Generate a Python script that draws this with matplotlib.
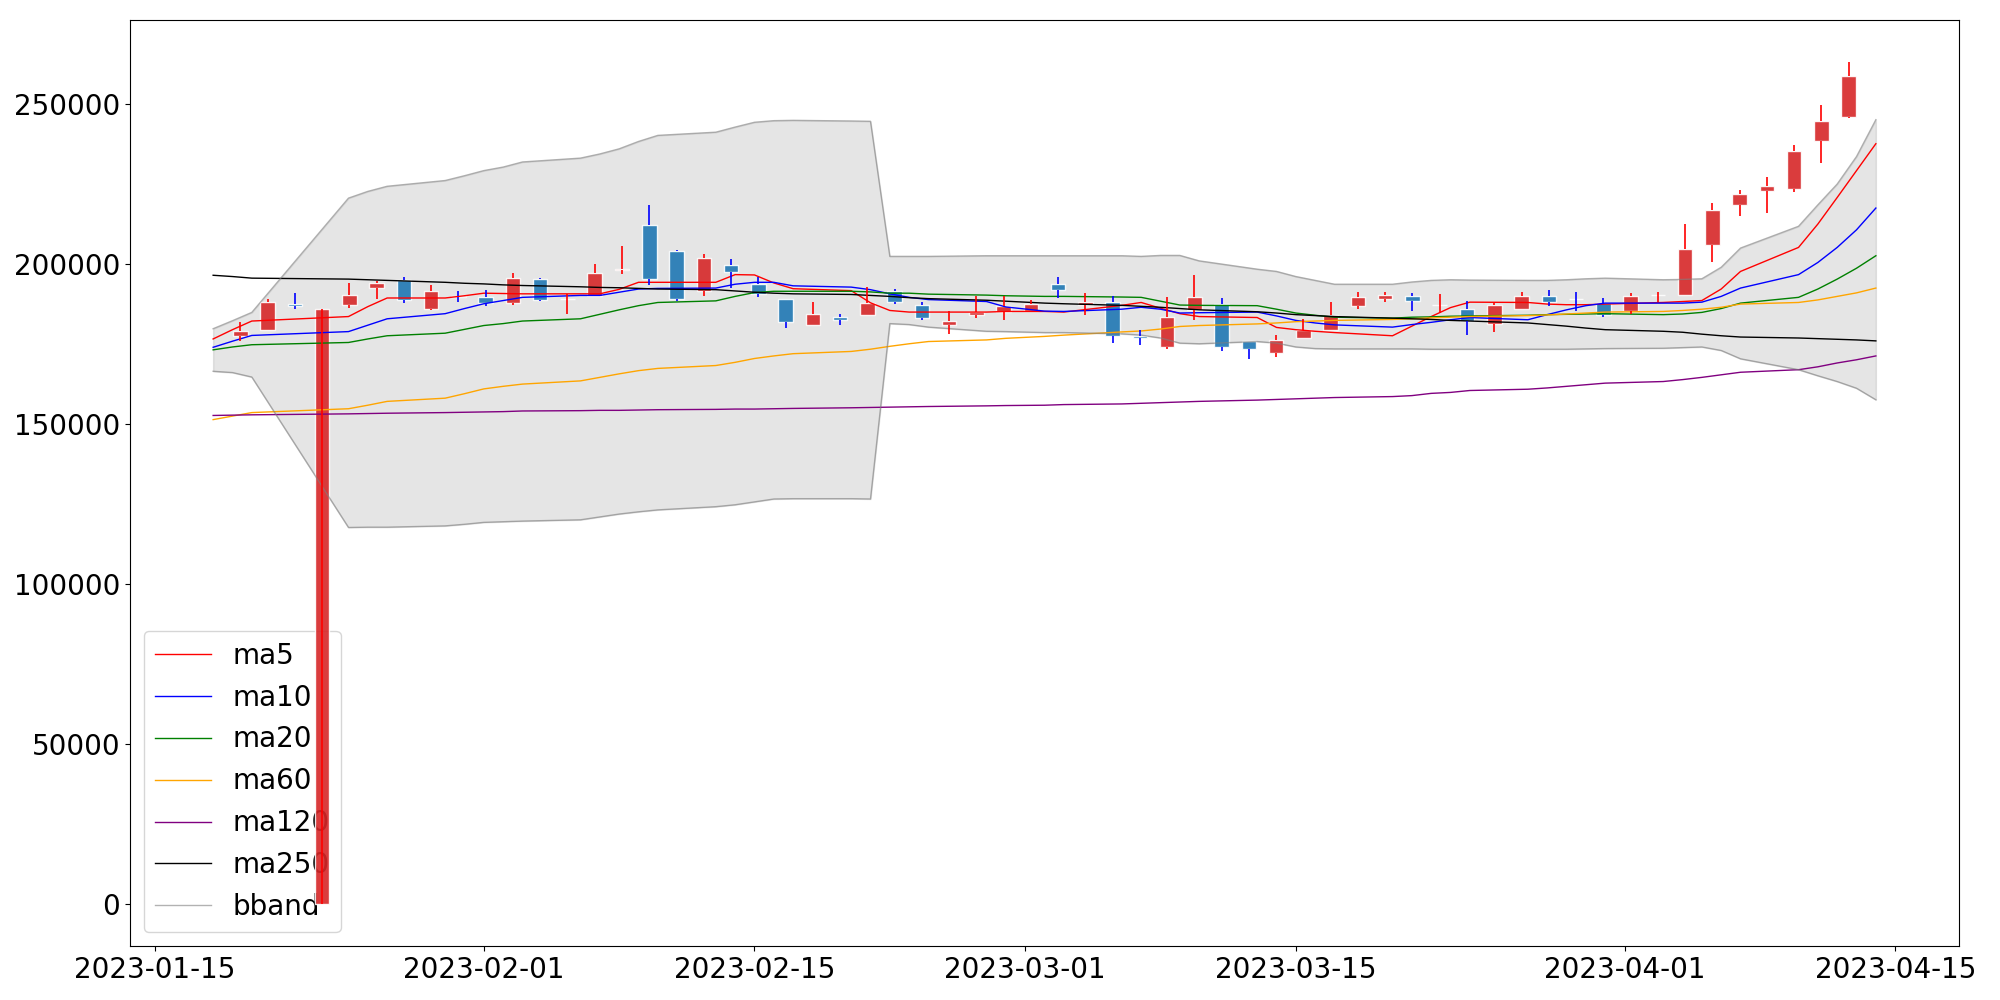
import numpy as np
import pandas as pd
import matplotlib
matplotlib.use("Agg")
import matplotlib.pyplot as plt
import matplotlib.dates as mdates

plt.rcParams["font.size"] = 20

dates = [
    "2023-01-18", "2023-01-19", "2023-01-20", "2023-01-25", "2023-01-26", "2023-01-27",
    "2023-01-30", "2023-01-31", "2023-02-01", "2023-02-02", "2023-02-03",
    "2023-02-06", "2023-02-07", "2023-02-08", "2023-02-09", "2023-02-10",
    "2023-02-13", "2023-02-14", "2023-02-15", "2023-02-16", "2023-02-17",
    "2023-02-20", "2023-02-21", "2023-02-22", "2023-02-23", "2023-02-24",
    "2023-02-27", "2023-02-28", "2023-03-02", "2023-03-03",
    "2023-03-06", "2023-03-07", "2023-03-08", "2023-03-09", "2023-03-10",
    "2023-03-13", "2023-03-14", "2023-03-15", "2023-03-16", "2023-03-17",
    "2023-03-20", "2023-03-21", "2023-03-22", "2023-03-23", "2023-03-24",
    "2023-03-27", "2023-03-28", "2023-03-29", "2023-03-30", "2023-03-31",
    "2023-04-03", "2023-04-04", "2023-04-05", "2023-04-06", "2023-04-07",
    "2023-04-10", "2023-04-11", "2023-04-12", "2023-04-13", "2023-04-14",
]

opens = [177500, 179400, 187300, 0, 187000, 192300, 194800, 185800, 189800, 189500,
         187800, 195100, 189000, 189800, 198200, 212200, 203900, 191400, 199700, 193800,
         189100, 181000, 183500, 183900, 191600, 187200, 180900, 184100, 185000, 185300,
         193800, 187000, 188100, 177500, 174000, 185600, 187500, 175900, 172100, 176700,
         179400, 186700, 189100, 189800, 187150, 186000, 181200, 186000, 189800, 189000,
         187800, 185100, 190300, 190300, 206000, 218500, 222600, 223500, 238200, 246000]
highs = [181800, 189000, 190800, 0, 194000, 194500, 195800, 193400, 191500, 191800,
         197100, 195600, 190600, 199900, 205500, 218400, 204400, 203000, 201600, 196000,
         189100, 188000, 184300, 192700, 192200, 188000, 185200, 189800, 189800, 188800,
         195800, 190800, 190000, 179400, 189700, 196500, 189400, 175900, 177700, 182800,
         188000, 191100, 191100, 190800, 190500, 188400, 187700, 191100, 191900, 191100,
         189300, 190800, 191100, 212500, 219000, 223000, 227100, 237100, 249600, 263000]
lows = [175900, 179400, 185800, 0, 186100, 189100, 187700, 185400, 188200, 186900,
        187000, 188500, 184300, 189800, 196800, 193500, 188500, 189800, 192400, 189600,
        179900, 181000, 180800, 183900, 187300, 182500, 178000, 182900, 182300, 185300,
        189300, 183900, 175200, 174500, 173500, 182300, 172600, 170200, 170800, 176700,
        179400, 185800, 188000, 185100, 184600, 177600, 178600, 186000, 186700, 185300,
        183500, 184400, 188000, 190300, 200500, 215000, 215800, 222400, 231500, 245500]
closes = [178900, 187900, 186900, 186000, 190100, 193900, 188800, 191400, 189500, 187700,
          195400, 188800, 189100, 197200, 198300, 195300, 189100, 201700, 197300, 190600,
          181900, 184200, 182300, 187600, 187900, 183200, 182200, 184800, 186700, 187300,
          191900, 188100, 177300, 176700, 183500, 189500, 174000, 173500, 176300, 179200,
          183900, 189500, 190100, 188400, 187200, 182200, 187000, 189800, 188200, 188900,
          184100, 190000, 190300, 204700, 216900, 221900, 224400, 235300, 244700, 258800]

ma5 = [176500, 179400, 182100, 183500, 186600, 189300, 189300, 190000, 190800, 190700,
       190600, 190600, 190600, 192000, 194200, 194200, 194200, 196600, 196500, 194000,
       192200, 191600, 187800, 185400, 184900, 184900, 184900, 185100, 185100, 184900,
       187000, 187900, 186100, 184400, 183500, 183200, 180100, 179400, 178900, 178500,
       177500, 180500, 183500, 186300, 188000, 187900, 187400, 187200, 187200, 187400,
       187900, 188200, 188500, 192100, 197600, 205100, 212400, 220700, 229100, 237500]
ma10 = [173900, 175800, 177600, 178800, 180800, 182800, 184400, 186000, 187500, 188500,
        189500, 190100, 190100, 191100, 192100, 192300, 192400, 193600, 194200, 194200,
        193100, 192700, 191900, 190600, 189500, 188800, 188200, 186500, 185200, 185100,
        185800, 186400, 185800, 184600, 184700, 184900, 183700, 182300, 181500, 180900,
        180200, 181000, 181700, 182500, 183200, 182500, 184100, 185600, 186900, 187700,
        187700, 187700, 188000, 189800, 192400, 196600, 200400, 205100, 210600, 217400]
ma20 = [173100, 174000, 174700, 175400, 176500, 177500, 178300, 179500, 180700, 181300,
        182100, 182800, 184200, 185600, 186900, 187900, 188400, 189800, 191000, 191400,
        191400, 191400, 191200, 190800, 190800, 190500, 190200, 190000, 189800, 189800,
        189600, 189500, 188300, 187100, 187000, 186900, 185800, 184600, 183900, 183300,
        183000, 183300, 183400, 183600, 183700, 183900, 184100, 184200, 184300, 184400,
        184100, 184300, 184800, 186000, 187700, 189500, 192100, 195200, 198600, 202500]
ma60 = [151300, 152400, 153500, 154700, 155800, 157000, 158000, 159400, 160900, 161700,
        162400, 163400, 164500, 165600, 166600, 167300, 168200, 169200, 170400, 171200,
        171900, 172600, 173300, 174200, 175000, 175700, 176200, 176700, 177300, 177700,
        178700, 179000, 179600, 180400, 180700, 181200, 181500, 181900, 182100, 182300,
        182600, 182800, 183100, 183300, 183500, 183800, 184000, 184300, 184600, 184900,
        185100, 185400, 185800, 186400, 187400, 187900, 188700, 189800, 190900, 192400]
ma120 = [152600, 152700, 152800, 153100, 153200, 153300, 153500, 153600, 153700, 153800,
         154000, 154100, 154200, 154200, 154300, 154400, 154500, 154600, 154600, 154700,
         154800, 155000, 155100, 155200, 155300, 155400, 155600, 155700, 155800, 156000,
         156200, 156400, 156600, 156800, 157000, 157400, 157600, 157800, 158000, 158200,
         158500, 158800, 159500, 159800, 160400, 160800, 161200, 161700, 162200, 162700,
         163200, 163800, 164500, 165300, 166100, 166900, 167800, 169000, 170000, 171200]
ma250 = [196400, 196000, 195500, 195200, 195000, 194800, 194200, 193900, 193700, 193400,
         193200, 192800, 192600, 192500, 192300, 192100, 191900, 191500, 191100, 190800,
         190600, 190400, 190100, 189800, 189400, 189100, 188600, 188300, 187700, 187500,
         187000, 186700, 186400, 186000, 185600, 185000, 184600, 184100, 183800, 183500,
         183000, 182800, 182600, 182300, 182100, 181500, 181000, 180500, 179900, 179400,
         178900, 178600, 178000, 177500, 177100, 176800, 176600, 176400, 176200, 175900]
bb_upper = [179700, 182200, 184800, 220500, 222600, 224200, 226000, 227500, 229100, 230200,
            231800, 233000, 234300, 235900, 238200, 240100, 241100, 242700, 244200, 244700,
            244800, 244600, 244500, 202300, 202300, 202300, 202500, 202500, 202500, 202500,
            202500, 202300, 202600, 202600, 200900, 198300, 197600, 196000, 194800, 193600,
            193600, 194300, 194800, 195000, 194900, 194800, 194800, 195000, 195300, 195500,
            195000, 195100, 195300, 198900, 204900, 211700, 218400, 224900, 233500, 245000]
bb_lower = [166400, 166000, 164600, 117600, 117700, 117700, 118100, 118600, 119200, 119400,
            119600, 120000, 120900, 121800, 122500, 123100, 124100, 124700, 125600, 126500,
            126600, 126600, 126500, 181300, 181000, 180200, 178900, 178800, 178500, 178500,
            178100, 177700, 176800, 175200, 175000, 175700, 175200, 174000, 173500, 173400,
            173400, 173400, 173300, 173300, 173300, 173300, 173300, 173300, 173400, 173500,
            173600, 173800, 174000, 172900, 170300, 166900, 165000, 163200, 161100, 157500]

ma_names = ["ma5", "ma10", "ma20", "ma60", "ma120", "ma250"]
ma_values = [ma5, ma10, ma20, ma60, ma120, ma250]
ma_colors = ["red", "blue", "green", "orange", "purple", "black"]

x = mdates.date2num(pd.to_datetime(dates))
o = np.array(opens)
h = np.array(highs)
l = np.array(lows)
c = np.array(closes)

# candles are spread evenly over the date range
xc = np.linspace(x[0], x[-1], len(x) + 2)[1:-1]
up = c >= o
body_col = np.where(up, "tab:red", "tab:blue")
wick_col = np.where(up, "r", "b")
top = np.maximum(o, c)
bot = np.minimum(o, c)

fig, ax = plt.subplots(figsize=(20, 10), dpi=100)
fig.subplots_adjust(left=0.065, right=0.9795, bottom=0.054, top=0.98)
ax.use_sticky_edges = False

ax.fill_between(x, bb_lower, bb_upper, color="gray", alpha=0.2, zorder=1)
for name, vals, col in zip(ma_names, ma_values, ma_colors):
    ax.plot(x, vals, color=col, lw=1, label=name, zorder=2)
ax.plot(x, bb_upper, color="gray", alpha=0.6, lw=1, label="bband", zorder=2)
ax.plot(x, bb_lower, color="gray", alpha=0.6, lw=1, zorder=2)

ax.bar(xc, top - bot, bottom=bot, width=0.75, color=body_col, alpha=0.9,
       edgecolor="white", linewidth=1, zorder=1.5)
ax.vlines(xc, top, h, colors=wick_col, lw=1.2, zorder=2)
ax.vlines(xc, l, bot, colors=wick_col, lw=1.2, zorder=2)

ax.xaxis.set_major_locator(mdates.DayLocator(bymonthday=[1, 15]))
ax.xaxis.set_major_formatter(mdates.DateFormatter("%Y-%m-%d"))

leg = ax.legend(loc="lower left")
leg.set_zorder(1.2)

fig.savefig("out.png")
